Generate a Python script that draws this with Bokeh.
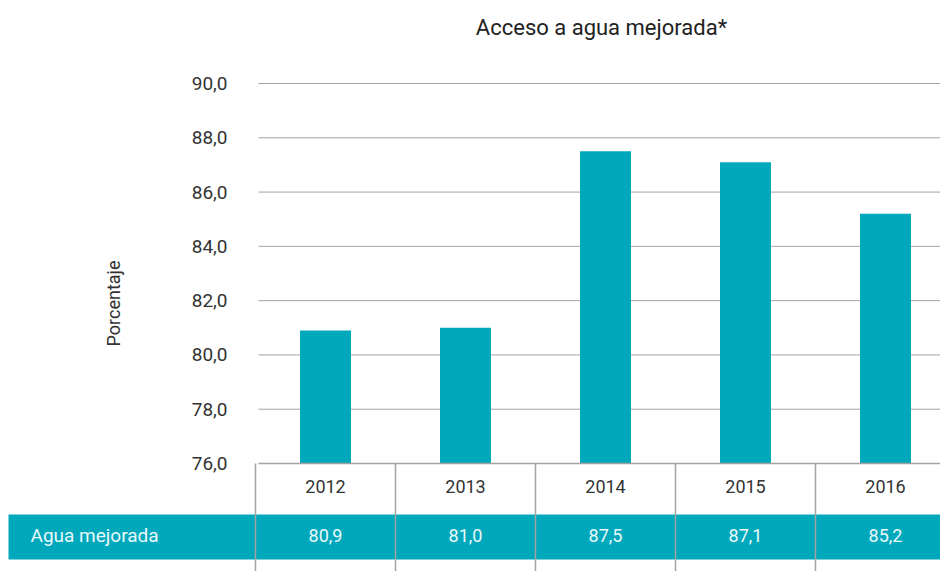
from bokeh.plotting import figure
from bokeh.models import ColumnDataSource, Range1d
from bokeh.core.properties import value
from bokeh.embed import file_html
from bokeh.resources import INLINE
import math

# ---- data ----
years = ["2012", "2013", "2014", "2015", "2016"]
agua_mejorada = [80.9, 81.0, 87.5, 87.1, 85.2]
y_ticks = [76, 78, 80, 82, 84, 86, 88, 90]
y_tick_labels = ["76,0", "78,0", "80,0", "82,0", "84,0", "86,0", "88,0", "90,0"]
title_text = "Acceso a agua mejorada*"
y_label = "Porcentaje"
row_label = "Agua mejorada"

TEAL = "#00a8bc"
GRID = "#a3a3a3"
DARK = "#333333"
FONT = value("Roboto")

W, H = 940, 571
px_x = 140.0          # pixels per category
x0_px = 325.0         # canvas x of first category
px_y = 380.0 / 14.0   # pixels per unit
y_top_px = 83.0       # canvas y of 90
xs = (-x0_px / px_x, (W - x0_px) / px_x)
ys = (90 - (H - y_top_px) / px_y, 90 + y_top_px / px_y)

def dx(px):
    return (px - x0_px) / px_x

p = figure(width=W, height=H, output_backend="svg", toolbar_location=None,
           x_range=Range1d(*xs), y_range=Range1d(*ys), min_border=0,
           outline_line_color=None, background_fill_color="white",
           border_fill_color="white")
p.axis.visible = False
p.grid.visible = False

xi = list(range(len(years)))
base = y_ticks[0]

# grid lines
grid_left = dx(258)
p.segment(x0=[grid_left] * (len(y_ticks) - 1), x1=[xs[1]] * (len(y_ticks) - 1),
          y0=y_ticks[1:], y1=y_ticks[1:], line_color=GRID, line_width=1)

# bars
src = ColumnDataSource(dict(x=xi, top=agua_mejorada,
                            lbl=[f"{v:.1f}".replace(".", ",") for v in agua_mejorada],
                            yr=years))
p.vbar(x="x", top="top", bottom=base, width=51 / px_x, source=src,
       fill_color=TEAL, line_color=None)

# y tick labels
p.text(x=[dx(227)] * len(y_ticks), y=y_ticks, text=y_tick_labels,
       text_align="right", text_baseline="middle", text_font=FONT,
       text_font_size="19px", text_color=DARK)

# y label
p.text(x=[dx(113)], y=[90 - (303 - y_top_px) / px_y], text=[y_label], angle=math.pi / 2,
       text_align="center", text_baseline="middle", text_font=FONT,
       text_font_size="18px", text_color=DARK)

# title
p.text(x=[dx(601)], y=[90 + (y_top_px - 27) / px_y], text=[title_text], text_align="center",
       text_baseline="middle", text_font=FONT, text_font_size="22px",
       text_color="#222222")

# table
band_top = base - 51 / px_y
band_bot = base - 96 / px_y
p.quad(left=dx(8), right=xs[1], top=band_top, bottom=band_bot,
       fill_color=TEAL, line_color=None)
p.segment(x0=[grid_left], x1=[xs[1]], y0=[base], y1=[base],
          line_color=GRID, line_width=1.5)
bounds = [i - 0.5 for i in xi]
p.segment(x0=bounds, x1=bounds, y0=[base] * len(bounds), y1=[ys[0]] * len(bounds),
          line_color=GRID, line_width=1.5)

p.text(x="x", y=base - 23 / px_y, text="yr", source=src, text_align="center",
       text_baseline="middle", text_font=FONT, text_font_size="18px",
       text_color=DARK)
p.text(x="x", y=base - 72 / px_y, text="lbl", source=src, text_align="center",
       text_baseline="middle", text_font=FONT, text_font_size="18px",
       text_color="#e8f8fa")
p.text(x=[dx(30)], y=[base - 72 / px_y], text=[row_label],
       text_align="left", text_baseline="middle", text_font=FONT,
       text_font_size="19px", text_color="#e8f8fa")

open("out.html", "w").write(file_html(p, INLINE))
